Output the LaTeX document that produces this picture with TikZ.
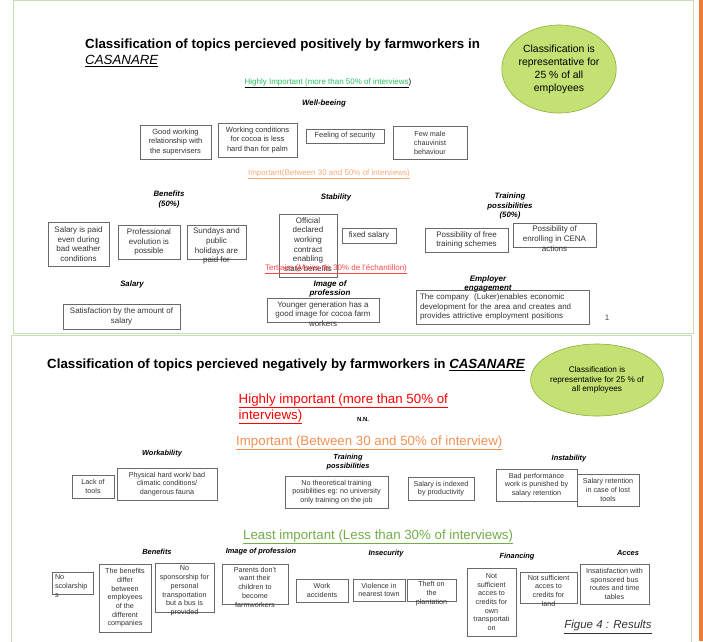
\documentclass[tikz,border=0pt]{standalone}
\usepackage{fontspec}
\setmainfont{Liberation Sans}
\usetikzlibrary{shapes.geometric}

\definecolor{slideline}{RGB}{197,224,180}
\definecolor{slidebar}{RGB}{237,125,49}
\definecolor{boxline}{RGB}{105,105,105}
\definecolor{ovalfill}{RGB}{196,225,115}
\definecolor{ovalline}{RGB}{140,175,60}
\definecolor{hgreen}{RGB}{40,190,95}
\definecolor{lightorange}{RGB}{244,170,120}
\definecolor{midorange}{RGB}{242,145,85}
\definecolor{lgreen}{RGB}{112,173,71}
\definecolor{tred}{RGB}{255,70,70}

% box of fixed size, text hangs from the top and may run out
\newcommand{\fixbox}[4]{\parbox[c][#2][t]{#1}{\centering\vspace*{#3}#4}}

\tikzset{
  topic/.style={draw=boxline, line width=0.6pt, align=center, inner sep=1pt,
    font=\fontsize{8}{9.6}\selectfont, text=black!80},
  negtopic/.style={topic, font=\fontsize{7.2}{8.7}\selectfont},
  theme/.style={font=\fontsize{7.8}{9.4}\selectfont\bfseries\itshape, align=center, inner sep=0},
  negtheme/.style={font=\fontsize{7.4}{8.8}\selectfont\bfseries\itshape, align=center, inner sep=0},
  slidetitle/.style={font=\fontsize{13.3}{15}\selectfont\bfseries, anchor=west, inner sep=0},
  level/.style={font=\fontsize{8}{9}\selectfont, inner sep=0},
  neglevel/.style={font=\fontsize{13.3}{16}\selectfont, anchor=west, align=left, inner sep=0},
  oval/.style={ellipse, draw=ovalline, line width=0.6pt, fill=ovalfill, align=center, inner sep=0}
}

\begin{document}
\begin{tikzpicture}[x=1pt,y=-1pt]
  \useasboundingbox (0,0) rectangle (703,641);
  % slides
  \draw[slideline, line width=1pt] (13,0.5) rectangle (693,333);
  \draw[slideline, line width=1pt] (11,645) -- (11,335) -- (691,335) -- (691,645);
  \fill[slidebar] (699,0) rectangle (703,641);

  % ---- positive ----
  \node[slidetitle] (postitle) at (85,45) {Classification of topics percieved positively by farmworkers in};
  \node[slidetitle, font=\fontsize{13.3}{15}\selectfont] (posplace) at (85,61) {\underline{\textit{CASANARE}}};
  \node[oval, minimum width=104pt, minimum height=88pt, font=\fontsize{10.4}{13}\selectfont] (posoval) at (559,69)
    {Classification is\\representative for\\25 \% of all\\employees};

  \node[level] (poshigh) at (328,83) {\underline{\textcolor{hgreen}{Highly Important (more than 50\% of interviews}})};
  \node[theme] (wellbeing) at (324,103) {Well-beeing};
  \node[topic, minimum width=71pt, minimum height=34pt, font=\fontsize{7.5}{9.3}\selectfont] (goodrel) at (175.5,142)
    {Good working\\relationship with\\the supervisers};
  \node[topic, minimum width=79pt, minimum height=34pt, font=\fontsize{7.5}{9.3}\selectfont] (workcond) at (257.5,140)
    {Working conditions\\for cocoa is less\\hard than for palm};
  \node[topic, minimum width=78pt, minimum height=14pt, font=\fontsize{7.5}{9.3}\selectfont] (security) at (345,136)
    {Feeling of security};
  \node[topic, minimum width=74pt, minimum height=33pt, font=\fontsize{7.2}{9}\selectfont] (chauvinist) at (430,142.5)
    {Few male\\chauvinist\\behaviour};

  \node[level, text=lightorange] (posimportant) at (329,174) {\underline{Important(Between 30 and 50\% of interviews)}};
  \node[theme] (benefitslbl) at (169,199.5) {Benefits\\(50\%)};
  \node[topic, minimum width=61pt, minimum height=44pt] (salarypaid) at (78.5,244)
    {Salary is paid\\even during\\bad weather\\conditions};
  \node[topic, minimum width=62pt, minimum height=34pt] (profevol) at (149,242)
    {Professional\\evolution is\\possible};
  \node[topic, inner sep=0] (sundays) at (216.5,242)
    {\fixbox{59pt}{34pt}{3pt}{Sundays and\\public\\holidays are\\paid for}};
  \node[theme] (stabilitylbl) at (336,197) {Stability};
  \node[topic, inner sep=0] (official) at (308,245.5)
    {\fixbox{58pt}{63pt}{3.5pt}{Official\\declared\\working\\contract\\enabling\\state benefits}};
  \node[topic, minimum width=54pt, minimum height=15pt] (fixedsal) at (369,235.5) {fixed salary};
  \node[theme] (traininglbl) at (510,206) {Training\\possibilities\\(50\%)};
  \node[topic, minimum width=83pt, minimum height=24pt] (freetrain) at (466.5,240)
    {Possibility of free\\training schemes};
  \node[topic, inner sep=0] (cena) at (554.5,235)
    {\fixbox{83pt}{24pt}{3pt}{Possibility of\\enrolling in CENA\\actions}};
  \node[level, text=tred] (tertiaire) at (336,269) {\underline{Tertiaire (Moins de 30\% de l’échantillon)}};
  \node[theme] (salarylbl) at (132,284) {Salary};
  \node[topic, minimum width=117pt, minimum height=25pt] (satisfaction) at (121.5,316.5)
    {Satisfaction by the amount of\\salary};
  \node[theme, font=\fontsize{8}{9.3}\selectfont\bfseries\itshape] (imagelbl) at (330,289) {Image of\\profession};
  \node[topic, inner sep=0] (younger) at (323,310)
    {\fixbox{112pt}{24pt}{3.5pt}{Younger generation has a\\good image for cocoa farm\\workers}};
  \node[theme, font=\fontsize{8}{9.3}\selectfont\bfseries\itshape] (employerlbl) at (488,284) {Employer\\engagement};
  \node[topic, minimum width=173pt, minimum height=34pt, text width=165pt, align=left] (company) at (502.5,307)
    {The company\ \ (Luker)enables economic\\development for the area and creates and\\provides attrictive employment positions};
  \node[level, text=black!70] (pagenum) at (607,318) {1};

  % ---- negative ----
  \node[slidetitle] (negtitle) at (47,365) {Classification of topics percieved negatively by farmworkers in \underline{\textit{CASANARE}}};
  \node[oval, minimum width=111pt, minimum height=72pt, font=\fontsize{8.2}{9.4}\selectfont] (negoval) at (597,380)
    {Classification is\\representative for 25 \% of\\all employees};
  \node[neglevel, text=red] (neghigh) at (238.5,409)
    {\underline{Highly important (more than 50\% of}\\\underline{interviews)}};
  \node[level, font=\fontsize{6}{7}\selectfont\bfseries] (nn) at (363,419) {N.N.};
  \node[neglevel, text=midorange] (negimportant) at (236,443) {\underline{Important (Between 30 and 50\% of interview)}};

  \node[negtheme] (workabilitylbl) at (162,454) {Workability};
  \node[negtopic, minimum width=42pt, minimum height=23pt] (lacktools) at (93,486.5) {Lack of\\tools};
  \node[negtopic, minimum width=100pt, minimum height=32pt] (physical) at (167,484)
    {Physical hard work/ bad\\climatic conditions/\\dangerous fauna};
  \node[negtheme] (negtraininglbl) at (348,462) {Training\\possibilities};
  \node[negtopic, minimum width=103pt, minimum height=32pt] (notheory) at (336.5,492)
    {No theoretical training\\posibilities eg: no university\\only training on the job};
  \node[negtopic, minimum width=66pt, minimum height=23pt] (indexed) at (441,488.5)
    {Salary is indexed\\by productivity};
  \node[negtheme] (instabilitylbl) at (569,459) {Instability};
  \node[negtopic, minimum width=81pt, minimum height=32pt] (badperf) at (536.5,485)
    {Bad performance\\work is punished by\\salary retention};
  \node[negtopic, minimum width=62pt, minimum height=32pt] (retention) at (608,490)
    {Salary retention\\in case of lost\\tools};

  \node[neglevel, text=lgreen] (negleast) at (243,537)
    {\underline{Least important (Less than 30\% of interviews)}};
  \node[negtheme] (negbenefitslbl) at (157,552) {Benefits};
  \node[negtheme] (negimagelbl) at (261,552) {Image of profession};
  \node[negtopic, inner sep=0] (scolar) at (72.5,583)
    {\parbox[c][22pt][t]{41pt}{\vspace*{3pt}\hspace*{3pt}No\\\hspace*{3pt}scolarship\\\hspace*{3pt}s}};
  \node[negtopic, minimum width=52pt, minimum height=68pt] (differ) at (125,598)
    {The benefits\\differ\\between\\employees\\of the\\different\\companies};
  \node[negtopic, inner sep=0] (sponsor) at (184.5,587.5)
    {\fixbox{59pt}{49pt}{3pt}{No\\sponsorship for\\personal\\transportation\\but a bus is\\provided}};
  \node[negtopic, inner sep=0] (parents) at (255,584)
    {\fixbox{66pt}{40pt}{3pt}{Parents don't\\want their\\children to\\become\\farmworkers}};
  \node[negtopic, minimum width=52pt, minimum height=23pt] (workacc) at (322,590.5) {Work\\accidents};
  \node[negtheme] (insecuritylbl) at (386,554) {Insecurity};
  \node[negtopic, minimum width=52pt, minimum height=22pt] (violence) at (379,590) {Violence in\\nearest town};
  \node[negtopic, inner sep=0] (theft) at (431.5,590)
    {\fixbox{49pt}{22pt}{2.5pt}{Theft on\\the\\plantation}};
  \node[negtheme] (financinglbl) at (517,557) {Financing};
  \node[negtopic, minimum width=49pt, minimum height=68pt] (owntransport) at (491.5,602)
    {Not\\sufficient\\acces to\\credits for\\own\\transportati\\on};
  \node[negtopic, inner sep=0] (land) at (548.5,587.5)
    {\fixbox{57pt}{31pt}{3pt}{Not sufficient\\acces to\\credits for\\land}};
  \node[negtheme] (acceslbl) at (628,553) {Acces};
  \node[negtopic, minimum width=69pt, minimum height=40pt] (bustables) at (614.5,584)
    {Insatisfaction with\\sponsored bus\\routes and time\\tables};
  \node[level, font=\fontsize{11.5}{13}\selectfont\itshape, text=black!80] (figlabel) at (608,627)
    {\underline{Figue 4 : Results}};
\end{tikzpicture}
\end{document}
